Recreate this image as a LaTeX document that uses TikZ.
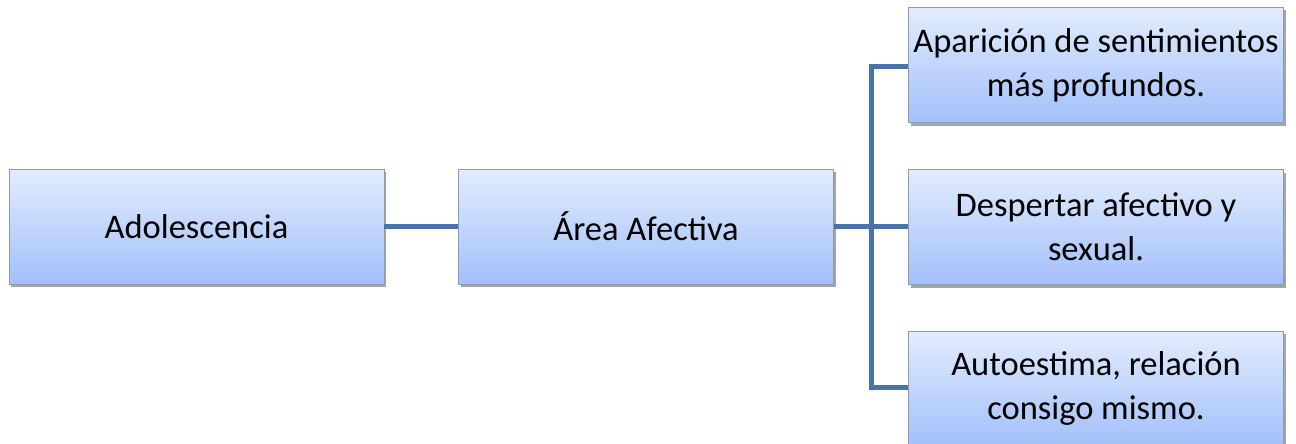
\documentclass[tikz,border=0pt]{standalone}
\usepackage{fontspec}
\setmainfont{Carlito}
\usetikzlibrary{shadows}
\definecolor{boxtop}{HTML}{E2ECFD}
\definecolor{boxbot}{HTML}{A2C0FA}
\definecolor{boxline}{HTML}{8E9AAE}
\definecolor{conn}{HTML}{4A73A8}
\begin{document}
\begin{tikzpicture}[x=1pt,y=1pt,
  box/.style={draw=boxline, line width=0.8pt, top color=boxtop, bottom color=boxbot,
    minimum width=375pt, minimum height=115pt, inner sep=0pt, align=center,
    font=\fontsize{34.5}{44}\selectfont,
    drop shadow={shadow xshift=2pt, shadow yshift=-3pt, opacity=0.5, fill=black!70}},
  link/.style={draw=conn, line width=5pt}]
\useasboundingbox (0,0) rectangle (1296,-444);
\node[box] (ado) at (196.5,-226.5) {Adolescencia};
\node[box] (area) at (646,-226.5) {Área Afectiva};
\node[box] (n1) at (1096,-65) {Aparición de sentimientos\\más profundos.};
\node[box] (n2) at (1096,-227) {Despertar afectivo y\\sexual.};
\node[box] (n3) at (1096,-388.5) {Autoestima, relación\\consigo mismo.};
\coordinate (j) at (871,-226.5);
\draw[link] (ado.east) -- (area.west);
\draw[link] (area.east) -- (j);
\draw[link] (j) -- (n2.west |- j);
\draw[link] (n1.west |- 0,-67) -| (j) |- (n3.west |- 0,-387);
\end{tikzpicture}
\end{document}
